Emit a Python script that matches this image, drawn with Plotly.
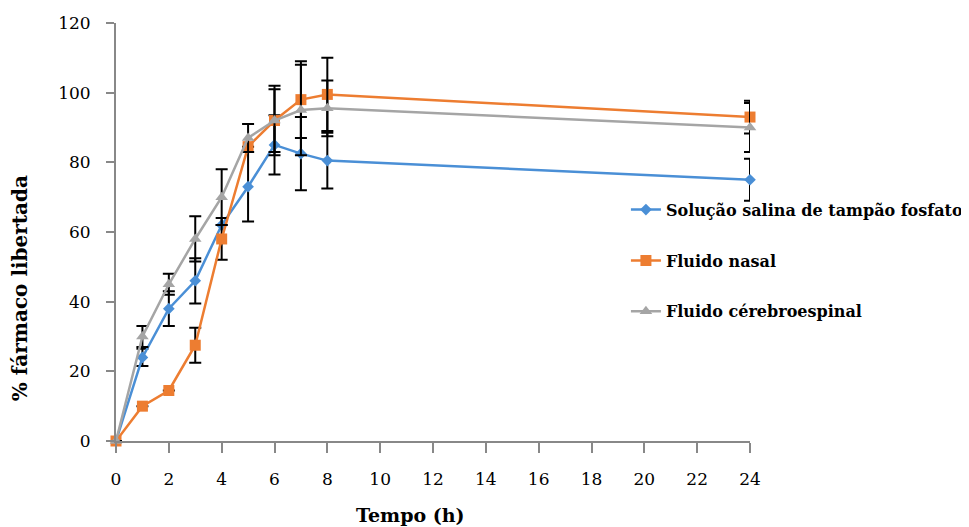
import plotly.graph_objects as go

time_h = [0, 1, 2, 3, 4, 5, 6, 7, 8, 24]

pbs_vals = [0, 24, 38, 46, 62, 73, 85, 82.5, 80.5, 75]
pbs_err = [0, 2.5, 5, 6.5, 0, 10, 8.5, 10.5, 8, 6]

nasal_vals = [0, 10, 14.5, 27.5, 58, 84.5, 92, 98, 99.5, 93]
nasal_err = [0, 0, 0, 5, 6, 0, 10, 11, 10.5, 4.7]

csf_vals = [0, 30, 45, 58, 70, 87, 92, 95, 95.5, 90]
csf_err = [0, 3, 3, 6.5, 8, 4, 9, 13, 8, 7]

names = ["Solução salina de tampão fosfato", "Fluido nasal", "Fluido cérebroespinal"]
colors = ["#4A8FD6", "#ED7D31", "#A5A5A5"]
symbols = ["diamond", "square", "triangle-up"]
sizes = [9, 11, 11]

x_ticks = [0, 2, 4, 6, 8, 10, 12, 14, 16, 18, 20, 22, 24]
y_ticks = [0, 20, 40, 60, 80, 100, 120]

fig = go.Figure()
for i, (vals, err) in enumerate([(pbs_vals, pbs_err), (nasal_vals, nasal_err), (csf_vals, csf_err)]):
    fig.add_trace(go.Scatter(
        x=time_h, y=vals, name=names[i], mode="lines+markers",
        line=dict(color=colors[i], width=2.5),
        marker=dict(symbol=symbols[i], size=sizes[i], color=colors[i]),
        error_y=dict(type="data", array=err, visible=True, color="black", thickness=2, width=6),
        cliponaxis=False, legendgroup=f"g{i}",
    ))

serif = "DejaVu Serif, serif"
fig.update_layout(
    width=961, height=519,
    margin=dict(l=108, r=219, t=15, b=86, autoexpand=False),
    plot_bgcolor="white", paper_bgcolor="white",
    font=dict(family=serif, size=17, color="black"),
    showlegend=True,
    legend=dict(xref="container", x=0.643, y=0.594, xanchor="left", yanchor="top",
                font=dict(family=serif, size=16, color="black", weight="bold"),
                tracegroupgap=27, bgcolor="rgba(0,0,0,0)", traceorder="grouped"),
    xaxis=dict(range=[0, 24], tickvals=x_ticks, ticks="outside", ticklen=10, tickcolor="#888",
               tickwidth=2, showline=True, linecolor="#888", linewidth=2, showgrid=False,
               zeroline=False, tickfont=dict(size=17), ticklabelstandoff=12, automargin=False),
    yaxis=dict(range=[0, 120], tickvals=y_ticks, ticks="outside", ticklen=8, tickcolor="#888",
               tickwidth=2, showline=True, linecolor="#888", linewidth=2, showgrid=False,
               zeroline=False, tickfont=dict(size=17), ticklabelstandoff=12, automargin=False),
    annotations=[
        dict(text="<b>Tempo (h)</b>", xref="paper", yref="paper", x=0.465, y=-0.177,
             xanchor="center", yanchor="middle", showarrow=False,
             font=dict(family=serif, size=19, color="black")),
        dict(text="<b>% fármaco libertada</b>", xref="paper", yref="paper", x=-0.151, y=0.366,
             xanchor="center", yanchor="middle", showarrow=False, textangle=-90,
             font=dict(family=serif, size=20, color="black")),
    ],
)

fig.write_html("out.html")
